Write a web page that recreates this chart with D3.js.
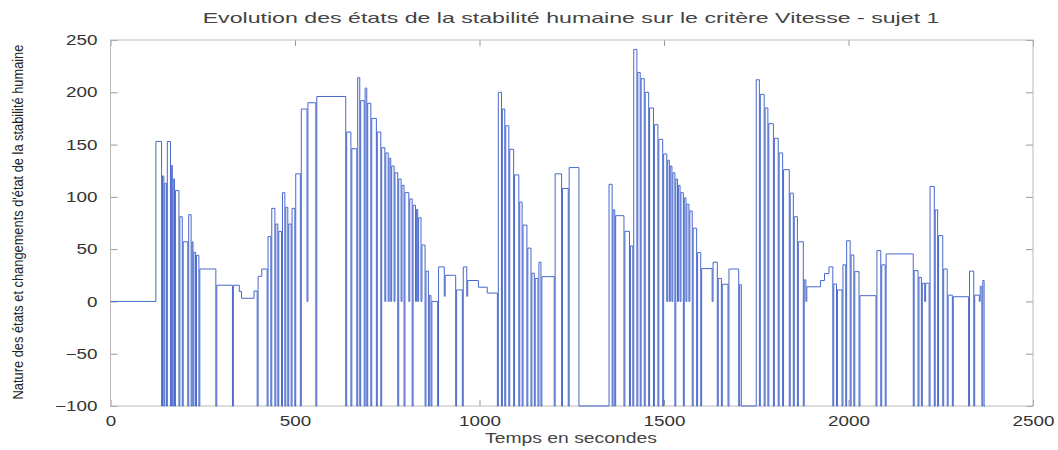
<!DOCTYPE html>
<html>
<head>
<meta charset="utf-8">
<script src="https://cdn.jsdelivr.net/npm/d3@7"></script>
<style>
  body { margin: 0; background: #fff; }
  text { font-family: "Liberation Sans", Arial, sans-serif; }
</style>
</head>
<body>
<div id="wrapper"></div>
<script>
// start time (s) of each state
const stateTime = [0, 123, 141, 147, 154, 165, 170, 176, 188, 197, 212, 221, 226, 233, 242, 288, 333, 349, 355, 389,
  400, 410, 427, 437, 448, 456, 466, 475, 483, 492, 502, 517, 535, 559, 640, 654, 670, 678, 690, 697,
  708, 723, 735, 746, 755, 762, 771, 781, 790, 798, 811, 820, 829, 835, 844, 855, 864, 871, 889, 907,
  938, 956, 968, 997, 1021, 1051, 1062, 1071, 1082, 1095, 1109, 1118, 1131, 1142, 1151, 1161, 1169, 1205, 1225, 1243,
  1272, 1351, 1362, 1369, 1394, 1409, 1418, 1429, 1438, 1449, 1461, 1474, 1486, 1499, 1510, 1517, 1524, 1532, 1539, 1546,
  1555, 1562, 1570, 1579, 1591, 1602, 1633, 1647, 1658, 1676, 1705, 1712, 1750, 1761, 1774, 1784, 1799, 1812, 1824, 1842,
  1853, 1864, 1880, 1887, 1924, 1935, 1947, 1960, 1970, 1985, 1995, 2007, 2017, 2031, 2077, 2090, 2102, 2178, 2191, 2200,
  2209, 2221, 2235, 2244, 2258, 2270, 2284, 2328, 2342, 2357, 2364];

// level held during each state
const stateLevel = [0, 153, 120, 113, 153, 130, 117, 106, 81, 57, 83, 57, 47, 44, 31, 15.5, 15.5, 9.5, 3, 10,
  24, 31, 62, 89, 74, 67, 104, 90, 74, 89, 122, 184, 190, 196, 162, 146, 214, 192, 204, 189.5,
  175, 162, 147, 142, 137, 129.5, 123, 117, 111, 104, 98, 92, 88, 80, 54, 29, 5.6, 0, 33, 25,
  11, 33, 20, 13.6, 8, 200, 184, 168, 145.5, 121, 95, 73, 51, 27, 22, 37.5, 23.7, 122, 108, 128,
  -100, 112, 87.5, 82, 67, 53, 241, 219, 213, 200, 185, 169, 155, 141, 135, 129.5, 123, 117, 111, 104,
  99, 93, 86.5, 70, 46.7, 31.4, 37.5, 22, 16.4, 31, 16, -100, 212, 198, 185, 170, 156, 142, 126, 103.5,
  81, 57, 20.6, 14, 20, 26.6, 33, 16.7, 11, 35, 58, 44.4, 28.5, 5.5, 48.6, 35, 45.4, 29.5, 23, 17.4,
  17.4, 110, 87.5, 63, 31, 6, 4.5, 29, 6, 14.5, 20];

// value reached by the change of state that ends each state (null = direct step)
const B = -100, Z = 0, N = null;
const dropTo = [N, B, B, B, B, B, B, B, B, B, B, B, B, B, B, B, N, N, N, B,
  N, B, B, B, B, B, B, B, B, B, B, Z, B, B, B, B, B, B, B, B,
  B, B, Z, Z, Z, Z, B, Z, B, Z, B, Z, Z, Z, B, B, B, B, 5, B,
  B, 5, N, N, B, B, B, B, B, B, B, B, B, B, B, B, B, B, B, B,
  N, B, B, B, B, B, B, B, B, B, B, B, B, Z, Z, Z, B, Z, Z, B,
  Z, Z, B, B, B, Z, B, B, B, B, B, N, B, B, B, B, B, B, B, B,
  B, B, Z, N, N, N, B, B, B, B, B, B, B, B, B, B, B, B, B, Z,
  B, B, B, B, B, B, B, B, Z, B, B];

const endTime = 2370;
const dipLength = 2.5;

const xTicks = [0, 500, 1000, 1500, 2000, 2500];
const yTicks = [-100, -50, 0, 50, 100, 150, 200, 250];

const titleText = "Evolution des états de la stabilité humaine sur le critère Vitesse - sujet 1";
const xLabel = "Temps en secondes";
const yLabel = "Nature des états et changements d'état de la stabilité humaine";

// build the step series
const series = [];
stateTime.forEach((t, i) => {
    series.push([t, stateLevel[i]]);
    const next = i < stateTime.length - 1 ? stateTime[i + 1] : endTime;
    if (dropTo[i] !== null) series.push([next - dipLength, dropTo[i]]);
});
series.push([endTime, -100]);

var dimension = {
    width: 1058,
    height: 450,
    margin: { top: 40, left: 110.5, bottom: 44, right: 25 }
};
dimension.boundedWidth = dimension.width - dimension.margin.left - dimension.margin.right;
dimension.boundedHeight = dimension.height - dimension.margin.top - dimension.margin.bottom;

const svg = d3.select("#wrapper").append("svg")
    .attr("width", dimension.width)
    .attr("height", dimension.height);

svg.append("rect").attr("width", dimension.width).attr("height", dimension.height).attr("fill", "#fff");

const bounded = svg.append("g")
    .attr("transform", `translate(${dimension.margin.left},${dimension.margin.top})`);

const xScaler = d3.scaleLinear().domain([0, 2500]).range([0, dimension.boundedWidth]);
const yScaler = d3.scaleLinear().domain([-100, 250]).range([dimension.boundedHeight, 0]);

const tickColor = "#999";
const labelColor = "#333";
const stretch = 1.3; // the reference glyphs are wider than tall

function styleAxis(g) {
    g.select(".domain").remove();
    g.selectAll(".tick line").attr("stroke", tickColor);
    g.selectAll(".tick text").attr("fill", labelColor).attr("font-size", 14.5)
        .attr("font-family", "\"Liberation Sans\", Arial, sans-serif");
}

bounded.append("g")
    .attr("transform", `translate(0,${dimension.boundedHeight})`)
    .call(d3.axisBottom(xScaler).tickValues(xTicks).tickSize(-6).tickPadding(10).tickFormat(d3.format("d")))
    .call(styleAxis)
    .selectAll(".tick text").attr("transform", `scale(${stretch},1)`);
bounded.append("g")
    .call(d3.axisTop(xScaler).tickValues(xTicks).tickSize(-6).tickFormat(""))
    .call(styleAxis);
bounded.append("g")
    .call(d3.axisLeft(yScaler).tickValues(yTicks).tickSize(-7).tickPadding(10).tickFormat(d3.format("d")))
    .call(styleAxis)
    .selectAll(".tick text").attr("transform", `scale(${stretch},1)`);
bounded.append("g")
    .attr("transform", `translate(${dimension.boundedWidth},0)`)
    .call(d3.axisRight(yScaler).tickValues(yTicks).tickSize(-7).tickFormat(""))
    .call(styleAxis);

bounded.append("rect")
    .attr("width", dimension.boundedWidth)
    .attr("height", dimension.boundedHeight)
    .attr("fill", "none")
    .attr("stroke", "#bbb")
    .attr("stroke-width", 1);

const lineGenerator = d3.line()
    .curve(d3.curveStepAfter)
    .x(d => xScaler(d[0]))
    .y(d => yScaler(d[1]));

bounded.append("path")
    .attr("d", lineGenerator(series))
    .attr("fill", "none")
    .attr("stroke", "#4868cc")
    .attr("stroke-width", 1);

// scale a text element along its own direction so it spans a target length
function fitText(sel, target, cx, cy, angle) {
    const w = sel.node().getComputedTextLength();
    sel.attr("transform", `translate(${cx},${cy}) rotate(${angle}) scale(${target / w},1)`);
}

const title = svg.append("text")
    .attr("text-anchor", "middle")
    .attr("font-size", 14)
    .attr("fill", "#444")
    .text(titleText);
fitText(title, 737, 571, 23, 0);

const xTitle = svg.append("text")
    .attr("text-anchor", "middle")
    .attr("font-size", 14.5)
    .attr("fill", "#444")
    .text(xLabel);
fitText(xTitle, 172, 571, 443, 0);

const yTitle = svg.append("text")
    .attr("text-anchor", "middle")
    .attr("font-size", 15)
    .attr("fill", "#222")
    .text(yLabel);
fitText(yTitle, 355, 23, 222, -90);
</script>
</body>
</html>
